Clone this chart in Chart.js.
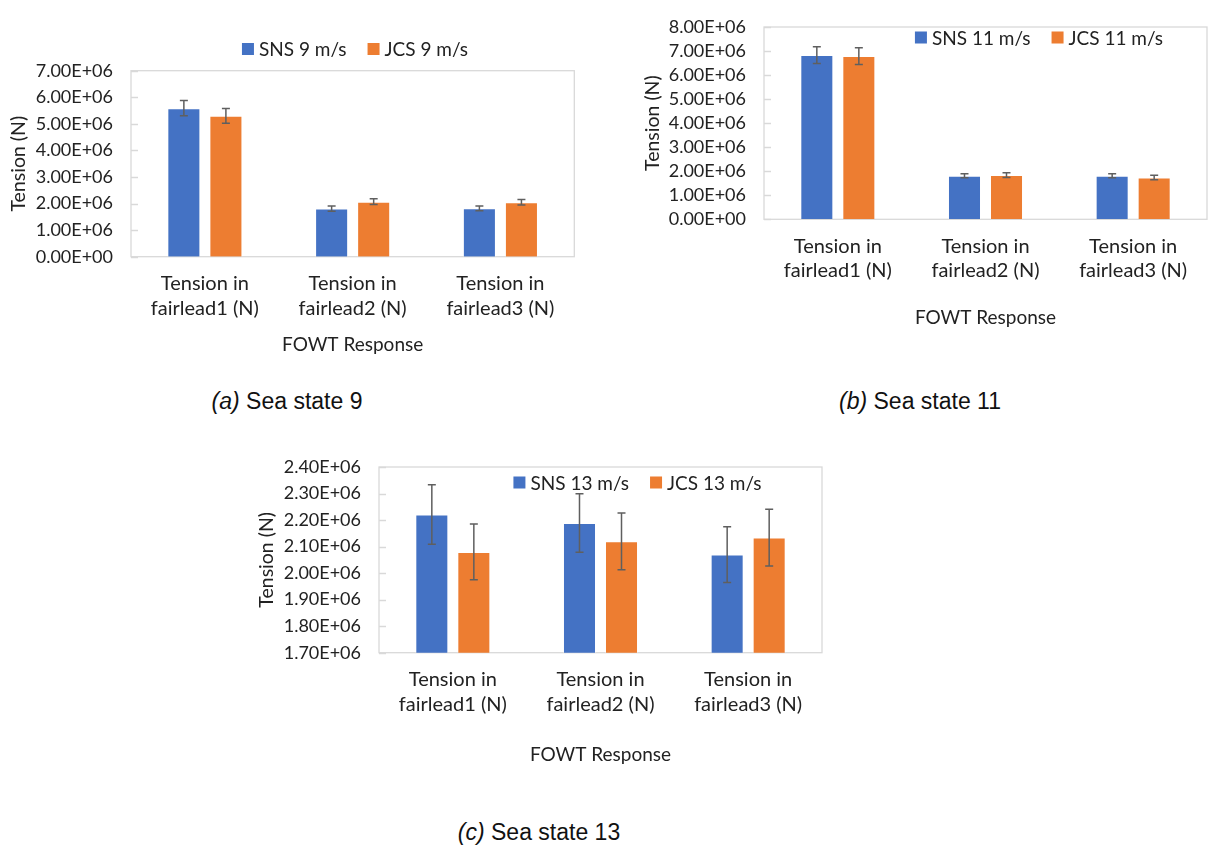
<!DOCTYPE html>
<html>
<head>
<meta charset="utf-8">
<script src="https://cdn.jsdelivr.net/npm/chart.js@4.4.1/dist/chart.umd.min.js"></script>
<style>
  body { margin: 0; background: #fff; width: 1216px; height: 847px; position: relative; overflow: hidden; }
  .box { position: absolute; }
  .box canvas { display: block; }
  .caption { position: absolute; font-family: 'Liberation Sans', Arial, sans-serif; font-size: 23px; color: #111;
             white-space: nowrap; transform: translateX(-50%); line-height: 1; }
</style>
</head>
<body>
<div class="box" style="left:0;top:0"><canvas id="chart9" width="600" height="380"></canvas></div>
<div class="box" style="left:620px;top:0"><canvas id="chart11" width="596" height="340"></canvas></div>
<div class="box" style="left:250px;top:440px"><canvas id="chart13" width="590" height="350"></canvas></div>
<div class="caption" style="left:287px;top:390px"><i>(a)</i> Sea state 9</div>
<div class="caption" style="left:920px;top:390px"><i>(b)</i> Sea state 11</div>
<div class="caption" style="left:539px;top:821px"><i>(c)</i> Sea state 13</div>
<script>
// categories on the x axis
const categories = [
  ['Tension in', 'fairlead1 (N)'],
  ['Tension in', 'fairlead2 (N)'],
  ['Tension in', 'fairlead3 (N)']
];

// sea state 9
const sns9 = [5.59e6, 1.81e6, 1.82e6];
const sns9Err = [0.29e6, 0.10e6, 0.09e6];
const jcs9 = [5.30e6, 2.07e6, 2.05e6];
const jcs9Err = [0.28e6, 0.11e6, 0.10e6];

// sea state 11
const sns11 = [6.83e6, 1.81e6, 1.81e6];
const sns11Err = [0.35e6, 0.085e6, 0.085e6];
const jcs11 = [6.79e6, 1.84e6, 1.74e6];
const jcs11Err = [0.35e6, 0.10e6, 0.09e6];

// sea state 13
const sns13 = [2.221e6, 2.189e6, 2.070e6];
const sns13Err = [0.112e6, 0.110e6, 0.105e6];
const jcs13 = [2.080e6, 2.120e6, 2.134e6];
const jcs13Err = [0.105e6, 0.107e6, 0.107e6];

const BLUE = '#4472C4';
const ORANGE = '#ED7D31';
const TEXT = '#222222';
const FRAME = '#d9d9d9';

Chart.defaults.font.family = 'Lato, "Noto Sans", sans-serif';
Chart.defaults.color = TEXT;

// 7.00E+06 style labels
function sci(value) {
  return Number(value).toExponential(2).toUpperCase().replace(/E([+-])(\d)$/, 'E$10$2');
}

// error bars drawn through the y scale
const errorBars = {
  id: 'errorBars',
  afterDatasetsDraw(chart) {
    const ctx = chart.ctx;
    const y = chart.scales.y;
    ctx.save();
    ctx.strokeStyle = '#5f5f5f';
    ctx.lineWidth = 1.5;
    chart.data.datasets.forEach((ds, i) => {
      chart.getDatasetMeta(i).data.forEach((bar, j) => {
        const top = y.getPixelForValue(ds.data[j] + ds.errors[j]);
        const bot = y.getPixelForValue(ds.data[j] - ds.errors[j]);
        ctx.beginPath();
        ctx.moveTo(bar.x, top); ctx.lineTo(bar.x, bot);
        ctx.moveTo(bar.x - 4, top); ctx.lineTo(bar.x + 4, top);
        ctx.moveTo(bar.x - 4, bot); ctx.lineTo(bar.x + 4, bot);
        ctx.stroke();
      });
    });
    ctx.restore();
  }
};

// plot frame plus short inside tick marks
const frame = {
  id: 'frame',
  beforeDatasetsDraw(chart) {
    const {ctx, chartArea: a} = chart;
    const y = chart.scales.y;
    ctx.save();
    ctx.strokeStyle = FRAME;
    ctx.lineWidth = 1.3;
    ctx.strokeRect(a.left, a.top, a.right - a.left, a.bottom - a.top);
    ctx.beginPath();
    y.ticks.forEach(t => {
      const py = Math.round(y.getPixelForValue(t.value)) + 0.5;
      ctx.moveTo(a.left, py);
      ctx.lineTo(a.left + 7, py);
    });
    ctx.stroke();
    ctx.restore();
  }
};

// legend placed where the original has it
const boxLegend = {
  id: 'boxLegend',
  afterDraw(chart, args, opts) {
    const ctx = chart.ctx;
    const items = chart.data.datasets;
    ctx.save();
    ctx.font = '19px Lato, "Noto Sans", sans-serif';
    ctx.textBaseline = 'middle';
    const box = 12, gap = 5, spacing = 21;
    const widths = items.map(d => box + gap + ctx.measureText(d.label).width);
    const total = widths.reduce((s, w) => s + w, 0) + spacing * (items.length - 1);
    let x = opts.cx - total / 2;
    items.forEach((d, i) => {
      ctx.fillStyle = d.backgroundColor;
      ctx.fillRect(x, opts.cy - box / 2, box, box);
      ctx.fillStyle = TEXT;
      ctx.fillText(d.label, x + box + gap, opts.cy + 1);
      x += widths[i] + spacing;
    });
    ctx.restore();
  }
};

function makeChart(id, labels, sns, snsErr, jcs, jcsErr, yMin, yMax, step, lay) {
  return new Chart(document.getElementById(id), {
    type: 'bar',
    data: {
      labels: categories,
      datasets: [
        { label: labels[0], data: sns, errors: snsErr, backgroundColor: BLUE,
          borderColor: 'rgba(255,255,255,0.35)', borderWidth: 1 },
        { label: labels[1], data: jcs, errors: jcsErr, backgroundColor: ORANGE,
          borderColor: 'rgba(255,255,255,0.35)', borderWidth: 1 }
      ]
    },
    options: {
      responsive: false,
      animation: false,
      categoryPercentage: 0.569,
      barPercentage: 0.786,
      layout: { padding: { top: lay.top, right: lay.right, left: 0, bottom: 0 } },
      plugins: {
        legend: { display: false },
        tooltip: { enabled: false },
        boxLegend: { cx: lay.legendX, cy: lay.legendY }
      },
      scales: {
        x: {
          grid: { display: false, drawTicks: false },
          border: { display: false },
          ticks: { padding: 15, font: { size: 20, lineHeight: 1.22 }, color: TEXT },
          title: { display: true, text: 'FOWT Response', font: { size: 19 },
                   padding: { top: 0, bottom: lay.xTitlePad }, color: TEXT },
          afterFit: s => { s.height = lay.xHeight; }
        },
        y: {
          min: yMin, max: yMax,
          grid: { display: false, drawTicks: false },
          border: { display: false },
          ticks: { stepSize: step, autoSkip: false, padding: 18, font: { size: 18, lineHeight: 1 },
                   color: TEXT, callback: sci },
          title: { display: true, text: 'Tension (N)', font: { size: 19.5 },
                   padding: { top: lay.yTitlePad, bottom: 0 }, color: TEXT },
          afterFit: s => { s.width = lay.yWidth; }
        }
      }
    },
    plugins: [frame, errorBars, boxLegend]
  });
}

makeChart('chart9', ['SNS 9 m/s', 'JCS 9 m/s'], sns9, sns9Err, jcs9, jcs9Err, 0, 7e6, 1e6,
  { top: 70.7, right: 25.7, yWidth: 131, xHeight: 123.3, xTitlePad: 23.6, yTitlePad: 7.3, legendX: 355, legendY: 49 });

makeChart('chart11', ['SNS 11 m/s', 'JCS 11 m/s'], sns11, sns11Err, jcs11, jcs11Err, 0, 8e6, 1e6,
  { top: 19, right: 9, yWidth: 144, xHeight: 120.7, xTitlePad: 10.6, yTitlePad: 21.3, legendX: 419, legendY: 37.5 });

makeChart('chart13', ['SNS 13 m/s', 'JCS 13 m/s'], sns13, sns13Err, jcs13, jcs13Err, 1.7e6, 2.4e6, 1e5,
  { top: 26.7, right: 18, yWidth: 129, xHeight: 137.3, xTitlePad: 23.6, yTitlePad: 5.3, legendX: 387.5, legendY: 42.5 });
</script>
</body>
</html>
